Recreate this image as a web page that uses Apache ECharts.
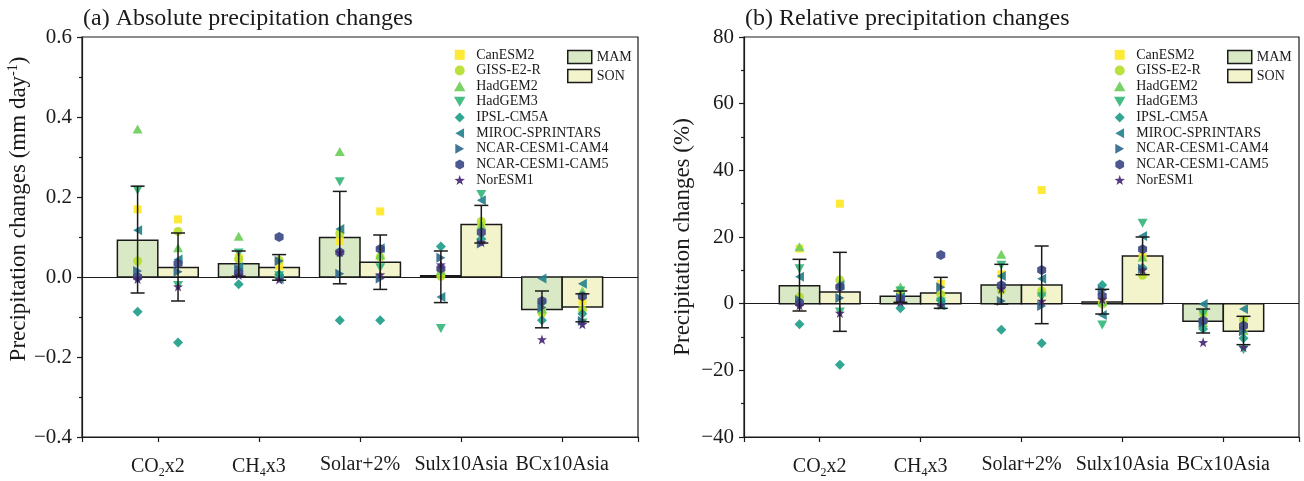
<!DOCTYPE html>
<html>
<head>
<meta charset="utf-8">
<script src="https://cdn.jsdelivr.net/npm/echarts@6/dist/echarts.min.js"></script>
<style>
html,body{margin:0;padding:0;background:#fff}
#main{width:1304px;height:481px}
</style>
</head>
<body>
<div id="main"></div>
<script>
// categories and labels
var categories = ['CO2x2', 'CH4x3', 'Solar+2%', 'Sulx10Asia', 'BCx10Asia'];
var categoryLabels = ['{n|CO}{s|2}{n|x2}', '{n|CH}{s|4}{n|x3}', '{n|Solar+2%}', '{n|Sulx10Asia}', '{n|BCx10Asia}'];
var models = ['CanESM2', 'GISS-E2-R', 'HadGEM2', 'HadGEM3', 'IPSL-CM5A', 'MIROC-SPRINTARS', 'NCAR-CESM1-CAM4', 'NCAR-CESM1-CAM5', 'NorESM1'];
var modelColors = ['#fde725', '#b5de2b', '#6ece58', '#35b779', '#1f9e89', '#26828e', '#31688e', '#3e4989', '#482878'];

// (a) absolute changes, mm/day  (rows = models, cols = categories)
var absMAM = [
  [0.169, 0.048, 0.090, 0.012, -0.085],
  [0.040, 0.045, 0.109, 0.002, -0.090],
  [0.370, 0.102, 0.314, 0.016, -0.080],
  [0.217, 0.060, 0.238, -0.129, -0.070],
  [-0.087, -0.018, -0.108, 0.076, -0.108],
  [0.117, 0.025, 0.120, -0.050, -0.004],
  [0.015, 0.020, 0.008, 0.048, -0.076],
  [0.000, 0.010, 0.062, 0.021, -0.060],
  [-0.005, 0.005, 0.062, 0.031, -0.156]
];
var absSON = [
  [0.144, 0.027, 0.164, 0.130, -0.060],
  [0.114, 0.042, 0.050, 0.139, -0.082],
  [0.073, 0.010, 0.055, 0.130, -0.035],
  [-0.021, 0.003, 0.023, 0.206, -0.115],
  [-0.164, 0.006, -0.108, 0.095, -0.092],
  [0.044, -0.005, 0.072, 0.192, -0.017],
  [0.013, 0.040, -0.004, 0.084, -0.110],
  [0.034, 0.100, 0.070, 0.112, -0.048],
  [-0.024, -0.006, 0.006, 0.087, -0.118]
];
var absBarMAM = [0.092, 0.033, 0.099, 0.003, -0.081];
var absBarSON = [0.024, 0.024, 0.037, 0.131, -0.075];
var absErrMAM = [[-0.040, 0.227], [0.002, 0.065], [-0.017, 0.214], [-0.064, 0.065], [-0.127, -0.035]];
var absErrSON = [[-0.060, 0.110], [-0.008, 0.056], [-0.031, 0.105], [0.085, 0.179], [-0.112, -0.042]];

// (b) relative changes, %
var relMAM = [
  [16.5, 3.5, 8.8, 0.6, -5.7],
  [2.0, 3.0, 4.0, -0.1, -3.0],
  [17.1, 5.1, 14.8, 0.6, -5.7],
  [10.5, 3.8, 11.5, -6.4, -3.1],
  [-6.2, -1.4, -7.8, 5.6, -7.6],
  [8.1, 2.0, 8.3, -3.4, -0.1],
  [1.1, 1.8, 0.8, 4.0, -5.8],
  [0.1, 1.5, 5.5, 2.3, -5.1],
  [-0.5, 0.5, 4.5, 1.3, -11.6]
];
var relSON = [
  [30.0, 6.0, 34.1, 14.0, -8.0],
  [7.1, 2.8, 3.8, 8.5, -4.9],
  [6.0, -0.3, 3.5, 14.0, -8.0],
  [-2.5, 0.5, 2.0, 24.1, -13.8],
  [-18.3, 1.0, -11.9, 10.8, -10.4],
  [5.5, -0.5, 7.5, 20.3, -1.6],
  [1.7, 4.9, -0.7, 10.5, -8.3],
  [5.0, 14.6, 10.1, 16.3, -6.6],
  [-2.8, -0.4, 0.8, 10.1, -13.1]
];
var relBarMAM = [5.4, 2.2, 5.6, 0.5, -5.3];
var relBarSON = [3.5, 3.2, 5.6, 14.3, -8.3];
var relErrMAM = [[-2.2, 13.3], [0.4, 3.8], [-0.1, 11.8], [-3.1, 4.3], [-8.8, -1.6]];
var relErrSON = [[-8.3, 15.4], [-1.4, 7.9], [-6.0, 17.3], [8.7, 20.0], [-12.3, -3.8]];

var FONT = 'Liberation Serif, Times New Roman, serif';
var INK = '#1a1a1a';
var BAR_W = 0.4;   // width of one season bar, in category units

// marker shapes
var symbols = [
  'path://M-1,-1L1,-1L1,1L-1,1Z',
  'circle',
  'path://M0,-1L1,0.75L-1,0.75Z',
  'path://M-1,-0.75L1,-0.75L0,1Z',
  'path://M0,-1L1,0L0,1L-1,0Z',
  'path://M-1,0L0.75,-1L0.75,1Z',
  'path://M1,0L-0.75,-1L-0.75,1Z',
  'path://M0,-1L0.87,-0.5L0.87,0.5L0,1L-0.87,0.5L-0.87,-0.5Z',
  'path://M0,-1L0.235,-0.324L0.951,-0.309L0.38,0.124L0.588,0.809L0,0.4L-0.588,0.809L-0.38,0.124L-0.951,-0.309L-0.235,-0.324Z'
];
var symbolSizes = [[8, 8], 9, [10, 9], [10, 9], [10, 10], [9, 10], [9, 10], [9, 10], [10, 10]];

function barRender(side) {
  return function (params, api) {
    var x = api.value(0), v = api.value(1);
    var p0 = api.coord([x + side * BAR_W, v]);
    var p1 = api.coord([x, 0]);
    return {
      type: 'rect',
      shape: {
        x: Math.min(p0[0], p1[0]), y: Math.min(p0[1], p1[1]),
        width: Math.abs(p1[0] - p0[0]), height: Math.abs(p1[1] - p0[1])
      },
      style: api.style({ stroke: INK, lineWidth: 1.5 })
    };
  };
}

function errRender(params, api) {
  var lo = api.coord([api.value(0), api.value(1)]);
  var hi = api.coord([api.value(0), api.value(2)]);
  var cap = 7;
  var st = { stroke: INK, lineWidth: 1.5 };
  return {
    type: 'group',
    children: [
      { type: 'line', shape: { x1: lo[0], y1: lo[1], x2: hi[0], y2: hi[1] }, style: st },
      { type: 'line', shape: { x1: lo[0] - cap, y1: lo[1], x2: lo[0] + cap, y2: lo[1] }, style: st },
      { type: 'line', shape: { x1: hi[0] - cap, y1: hi[1], x2: hi[0] + cap, y2: hi[1] }, style: st }
    ]
  };
}

function buildPanel(gi, mam, son, barMAM, barSON, errMAM, errSON) {
  var out = [];
  var dMAM = [], dSON = [], eMAM = [], eSON = [];
  for (var c = 0; c < categories.length; c++) {
    dMAM.push([c + 1, barMAM[c]]);
    dSON.push([c + 1, barSON[c]]);
    eMAM.push([c + 1 - BAR_W / 2, errMAM[c][0], errMAM[c][1]]);
    eSON.push([c + 1 + BAR_W / 2, errSON[c][0], errSON[c][1]]);
  }
  out.push({ name: 'MAM', type: 'custom', xAxisIndex: gi, yAxisIndex: gi, renderItem: barRender(-1),
    itemStyle: { color: '#d9e9c5' }, data: dMAM, z: 2 });
  out.push({ name: 'SON', type: 'custom', xAxisIndex: gi, yAxisIndex: gi, renderItem: barRender(1),
    itemStyle: { color: '#f3f4cc' }, data: dSON, z: 2 });
  for (var m = 0; m < models.length; m++) {
    var pts = [];
    for (var k = 0; k < categories.length; k++) {
      pts.push([k + 1 - BAR_W / 2, mam[m][k]]);
      pts.push([k + 1 + BAR_W / 2, son[m][k]]);
    }
    var s = {
      name: models[m], type: 'scatter', xAxisIndex: gi, yAxisIndex: gi,
      symbol: symbols[m], symbolSize: symbolSizes[m],
      itemStyle: { color: modelColors[m], opacity: 0.92 },
      data: pts, z: 3
    };
    if (m === 0) {
      s.markLine = { silent: true, symbol: ['none', 'none'], label: { show: false },
        lineStyle: { color: INK, width: 1.2, type: 'solid' }, data: [{ yAxis: 0 }], z: 1 };
    }
    out.push(s);
  }
  out.push({ type: 'custom', xAxisIndex: gi, yAxisIndex: gi, renderItem: errRender, data: eMAM, z: 4 });
  out.push({ type: 'custom', xAxisIndex: gi, yAxisIndex: gi, renderItem: errRender, data: eSON, z: 4 });
  return out;
}

function xAxisOpt(gi) {
  return {
    type: 'value', gridIndex: gi, min: 0.25, max: 5.75,
    splitLine: { show: false },
    axisLine: { onZero: false, lineStyle: { color: INK, width: 1.2 } },
    axisTick: { length: 5, lineStyle: { color: INK, width: 1.2 }, customValues: [0.25, 1, 2, 3, 4, 5, 5.75] },
    axisLabel: {
      customValues: [1, 2, 3, 4, 5], margin: 18,
      formatter: function (v) { return categoryLabels[Math.round(v) - 1]; },
      rich: {
        n: { fontSize: 20, fontFamily: FONT, color: INK },
        s: { fontSize: 12, fontFamily: FONT, color: INK, padding: [12, 0, 0, 0] }
      }
    }
  };
}

function yAxisOpt(gi, min, max, step, dec, nameRich, nameShift) {
  return {
    type: 'value', gridIndex: gi, min: min, max: max, interval: step,
    splitLine: { show: false },
    axisLine: { show: true, lineStyle: { color: INK, width: 1.2 } },
    axisTick: { length: 5, lineStyle: { color: INK, width: 1.2 } },
    minorTick: { show: true, splitNumber: 2, length: 3, lineStyle: { color: INK, width: 1.2 } },
    axisLabel: {
      margin: 10, fontSize: 21, fontFamily: FONT, color: INK,
      formatter: function (v) { return v.toFixed(dec).replace('-', '\u2212'); }
    },
    name: nameRich, nameLocation: 'middle', nameRotate: 90, nameGap: dec ? 51 : 50,
    nameTextStyle: {
      color: INK, fontFamily: FONT, fontSize: 23, padding: nameShift,
      rich: {
        n: { fontSize: 23, fontFamily: FONT, color: INK },
        sup: { fontSize: 14, fontFamily: FONT, color: INK, padding: [0, 0, 10, 0] }
      }
    }
  };
}

function legendModels(left) {
  return {
    left: left, top: 42, orient: 'vertical', itemWidth: 23, itemHeight: 10, itemGap: 0,
    data: models, textStyle: { fontSize: 14, fontFamily: FONT, color: INK, lineHeight: 15.66 },
    selectedMode: false
  };
}

function legendBars(left) {
  return {
    left: left, top: 44, orient: 'vertical', itemWidth: 24, itemHeight: 13, itemGap: 3,
    icon: 'rect',
    data: [
      { name: 'MAM', itemStyle: { color: '#d9e9c5', borderColor: INK, borderWidth: 1.5 } },
      { name: 'SON', itemStyle: { color: '#f3f4cc', borderColor: INK, borderWidth: 1.5 } }
    ],
    textStyle: { fontSize: 14, fontFamily: FONT, color: INK, lineHeight: 16 },
    selectedMode: false
  };
}

var myChart = echarts.init(document.getElementById('main'), null, { renderer: 'canvas' });
var option = {
  animation: false,
  backgroundColor: '#fff',
  title: [
    { text: '(a) Absolute precipitation changes', left: 83, top: 7, padding: 0,
      textStyle: { fontSize: 24, fontWeight: 'normal', fontFamily: FONT, color: INK } },
    { text: '(b) Relative precipitation changes', left: 745, top: 7, padding: 0,
      textStyle: { fontSize: 24, fontWeight: 'normal', fontFamily: FONT, color: INK } }
  ],
  legend: [legendModels(449), legendBars(562), legendModels(1109), legendBars(1222)],
  grid: [
    { left: 82, top: 37, width: 556, height: 400, show: true, borderColor: INK, borderWidth: 1.2 },
    { left: 744, top: 37, width: 555, height: 400, show: true, borderColor: INK, borderWidth: 1.2 }
  ],
  xAxis: [xAxisOpt(0), xAxisOpt(1)],
  yAxis: [
    yAxisOpt(0, -0.4, 0.6, 0.2, 1, '{n|Precipitation changes (mm day}{sup|-1}{n|)}', [0, 0, 0, 56]),
    yAxisOpt(1, -40, 80, 20, 0, '{n|Precipitation changes (%)}', 0)
  ],
  series: [].concat(
    buildPanel(0, absMAM, absSON, absBarMAM, absBarSON, absErrMAM, absErrSON),
    buildPanel(1, relMAM, relSON, relBarMAM, relBarSON, relErrMAM, relErrSON)
  )
};
myChart.setOption(option);
</script>
</body>
</html>
